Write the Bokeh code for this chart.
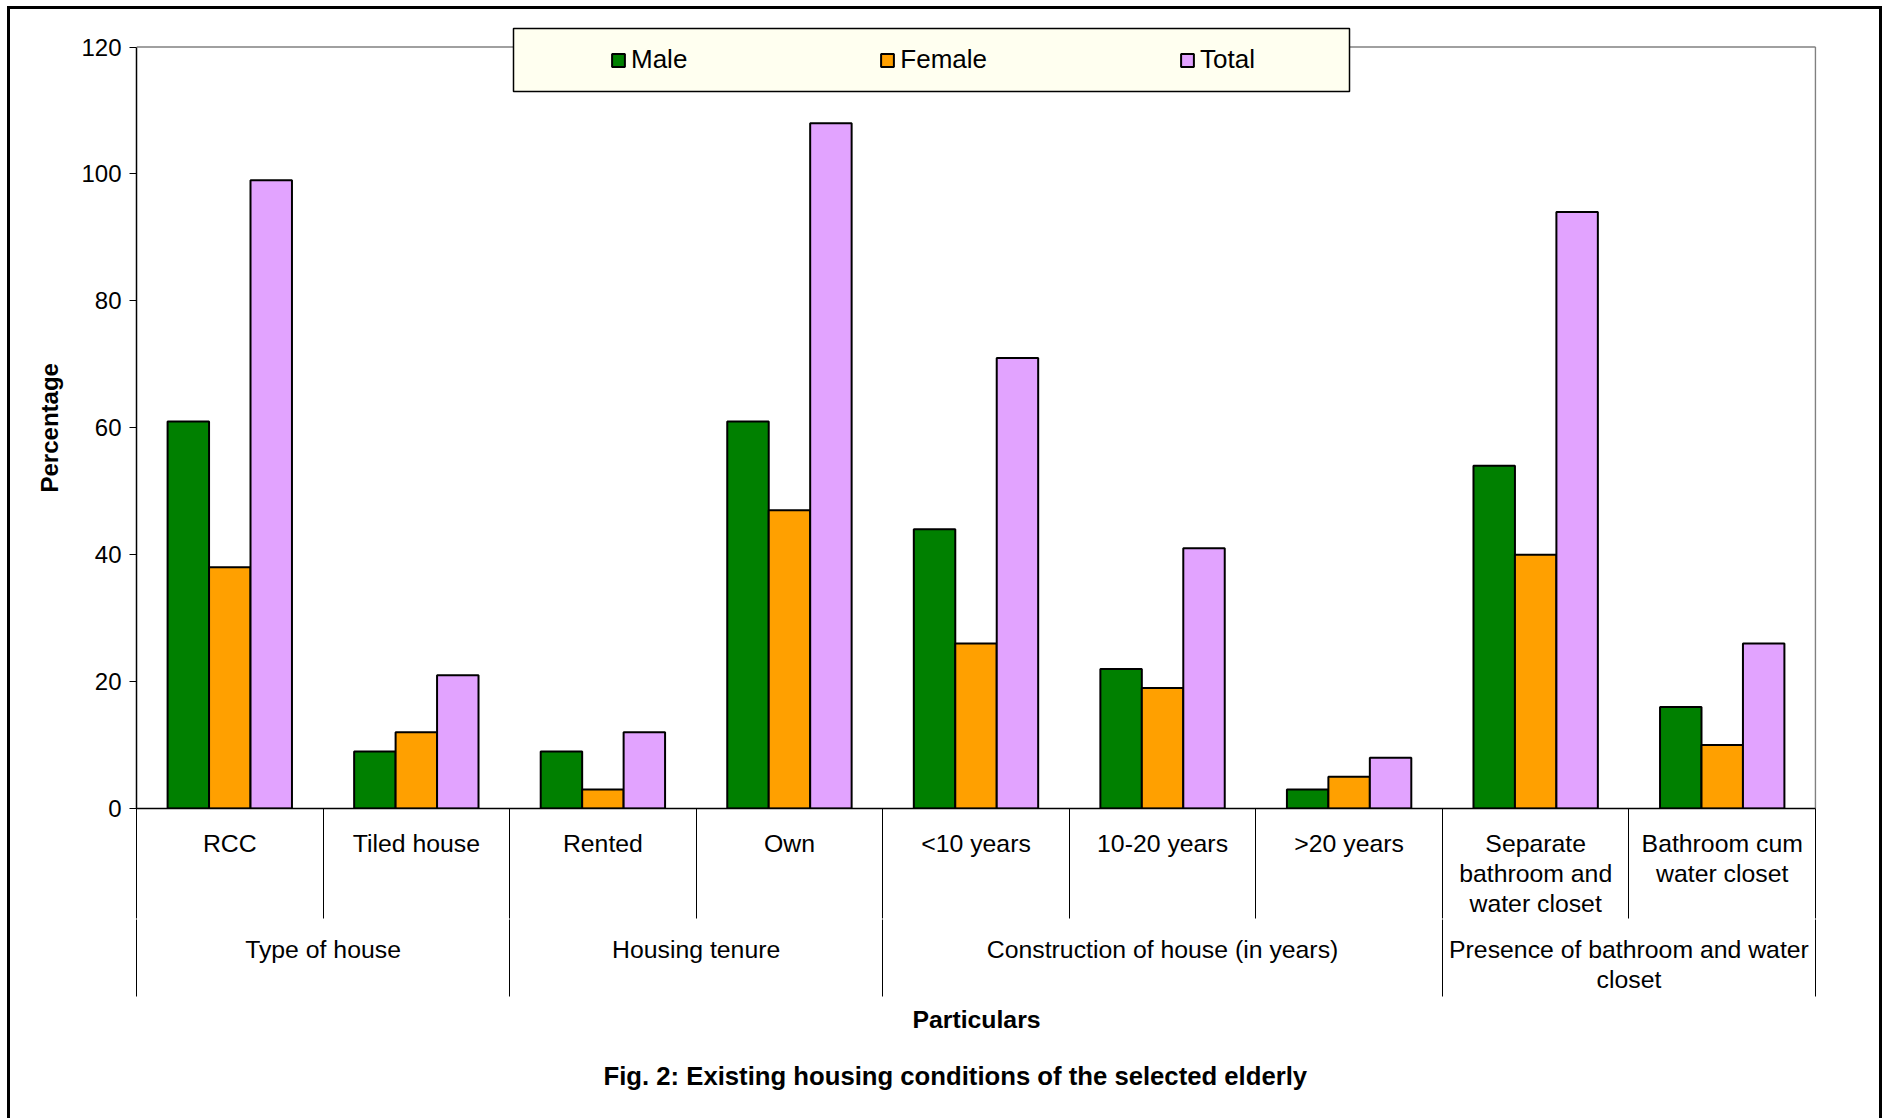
from bokeh.plotting import figure
from bokeh.models import (Range1d, LinearAxis, FixedTicker, Legend, LegendItem,
                          BoxAnnotation, Title)
from bokeh.embed import file_html
from bokeh.resources import INLINE

# Sub-categories (x axis, first level) and their groups (second level)
categories = ["RCC", "Tiled house", "Rented", "Own", "<10 years", "10-20 years",
              ">20 years", "Separate\nbathroom and\nwater closet",
              "Bathroom cum\nwater closet"]
groups = ["Type of house", "Housing tenure", "Construction of house (in years)",
          "Presence of bathroom and water\ncloset"]
group_sizes = [2, 2, 3, 2]

# Percentages per series
male = [61, 9, 9, 61, 44, 22, 3, 54, 16]
female = [38, 12, 3, 47, 26, 19, 5, 40, 10]
total = [99, 21, 12, 108, 71, 41, 8, 94, 26]

y_ticks = [0, 20, 40, 60, 80, 100, 120]
y_max = 120

FONT = "Liberation Sans"
FS = "24px"
CAT_FS = "24.8px"
W, H = 1883, 1118
# plot area (value axis 0..120, categories 0..n) in canvas pixels
PA_L, PA_R, PA_T, PA_B = 136, 1815, 46.5, 808
# drawing frame reaches a little beyond the plot area (legend box, right edge)
FR_T, FR_R = 10, 1816

n = len(categories)
centers = [i + 0.5 for i in range(n)]
bounds = [0]
for s in group_sizes:
    bounds.append(bounds[-1] + s)
group_centers = [(a + b) / 2 for a, b in zip(bounds[:-1], bounds[1:])]

px_per_cat = (PA_R - PA_L) / n
px_per_unit = (PA_B - PA_T) / y_max
x_end = n + (FR_R - PA_R) / px_per_cat
y_end = (PA_B - FR_T) / px_per_unit

p = figure(width=W, height=H, output_backend="svg", toolbar_location=None,
           x_range=Range1d(0, x_end), y_range=Range1d(0, y_end),
           x_axis_location=None, y_axis_location=None,
           min_border_left=PA_L, min_border_right=W - FR_R,
           min_border_top=FR_T, min_border_bottom=H - PA_B)
p.grid.visible = False
p.outline_line_color = None
p.background_fill_color = "white"
p.border_fill_color = None
# outer chart border (left, top and right edges)
p.styles = {
    "background": ("linear-gradient(#000,#000) 7px 6px / 3px 1112px no-repeat, "
                   "linear-gradient(#000,#000) 7px 6px / 1875px 3px no-repeat, "
                   "linear-gradient(#000,#000) 1879px 6px / 3px 1112px no-repeat, "
                   "#fff")
}

# plot area edges at the top and right
p.segment(x0=[0, n], y0=[y_max, 0], x1=[n, n], y1=[y_max, y_max],
          line_color="#808080", line_width=1.5)

# Clustered bars
bw = 1 / 4.5
series = [("Male", male, "#008000", -bw),
          ("Female", female, "#FFA000", 0.0),
          ("Total", total, "#E2A3FF", bw)]
items = []
for name, vals, color, off in series:
    r = p.vbar(x=[c + off for c in centers], top=vals, bottom=0, width=bw,
               fill_color=color, line_color="black", line_width=2)
    items.append(LegendItem(label=name, renderers=[r]))

# Value axis
yaxis = LinearAxis(ticker=FixedTicker(ticks=y_ticks, minor_ticks=[]),
                   bounds=(0, y_max),
                   major_label_text_font=FONT, major_label_text_font_size=FS,
                   major_label_text_color="black", major_label_standoff=8,
                   axis_line_color="black", axis_line_width=1.5,
                   major_tick_line_color="black", major_tick_out=7, major_tick_in=0,
                   minor_tick_line_color=None)
p.add_layout(yaxis, "left")

# value axis title, placed along the 0..120 span
y_title = Title(text="Percentage", align="left", offset=316, standoff=32,
                text_font=FONT, text_font_size=FS, text_font_style="bold",
                text_color="black")
p.add_layout(y_title, "left")

# First category level, separators between sub-categories
xaxis1 = LinearAxis(ticker=FixedTicker(ticks=centers, minor_ticks=list(range(n + 1))),
                    bounds=(0, n),
                    major_label_overrides={c: lab for c, lab in zip(centers, categories)},
                    major_label_text_font=FONT, major_label_text_font_size=CAT_FS,
                    major_label_text_color="black",
                    major_label_text_line_height=1.116,
                    major_label_standoff=-89,
                    axis_line_color="black", axis_line_width=1.5,
                    major_tick_line_color=None, major_tick_out=0, major_tick_in=0,
                    minor_tick_line_color="black", minor_tick_line_width=1,
                    minor_tick_out=110, minor_tick_in=0)
p.add_layout(xaxis1, "below")

# Second category level, separators between groups
xaxis2 = LinearAxis(ticker=FixedTicker(ticks=group_centers, minor_ticks=bounds),
                    bounds=(0, n),
                    major_label_overrides={c: g for c, g in zip(group_centers, groups)},
                    major_label_text_font=FONT, major_label_text_font_size=CAT_FS,
                    major_label_text_color="black",
                    major_label_text_line_height=1.116,
                    major_label_standoff=-61,
                    axis_label="Particulars",
                    axis_label_text_font=FONT, axis_label_text_font_size=CAT_FS,
                    axis_label_text_font_style="bold", axis_label_text_color="black",
                    axis_label_standoff=10,
                    axis_line_color=None, axis_line_alpha=0,
                    major_tick_line_color=None, major_tick_out=0, major_tick_in=0,
                    minor_tick_line_color="black", minor_tick_line_width=1,
                    minor_tick_out=77, minor_tick_in=0)
p.add_layout(xaxis2, "below")

caption = Title(text="Fig. 2: Existing housing conditions of the selected elderly",
                align="left", offset=467, standoff=48,
                text_font=FONT, text_font_size="25.7px", text_font_style="bold",
                text_color="black")
p.add_layout(caption, "below")

# Legend box and legend
legend_box = BoxAnnotation(left=513, right=1349, top=28, bottom=91,
                           left_units="canvas", right_units="canvas",
                           top_units="canvas", bottom_units="canvas",
                           fill_color="#FFFFF0", fill_alpha=1,
                           line_color="black", line_alpha=1, line_width=1.5)
p.add_layout(legend_box)

legend = Legend(items=items, orientation="horizontal",
                location=(610 - PA_L, PA_B - 60 - 15),
                padding=0, margin=0, spacing=192,
                glyph_width=16, glyph_height=16, label_standoff=5,
                label_height=26,
                label_text_font=FONT, label_text_font_size="26px",
                label_text_color="black",
                background_fill_alpha=0, border_line_color=None)
p.add_layout(legend)

open("out.html", "w").write(file_html(p, INLINE))
